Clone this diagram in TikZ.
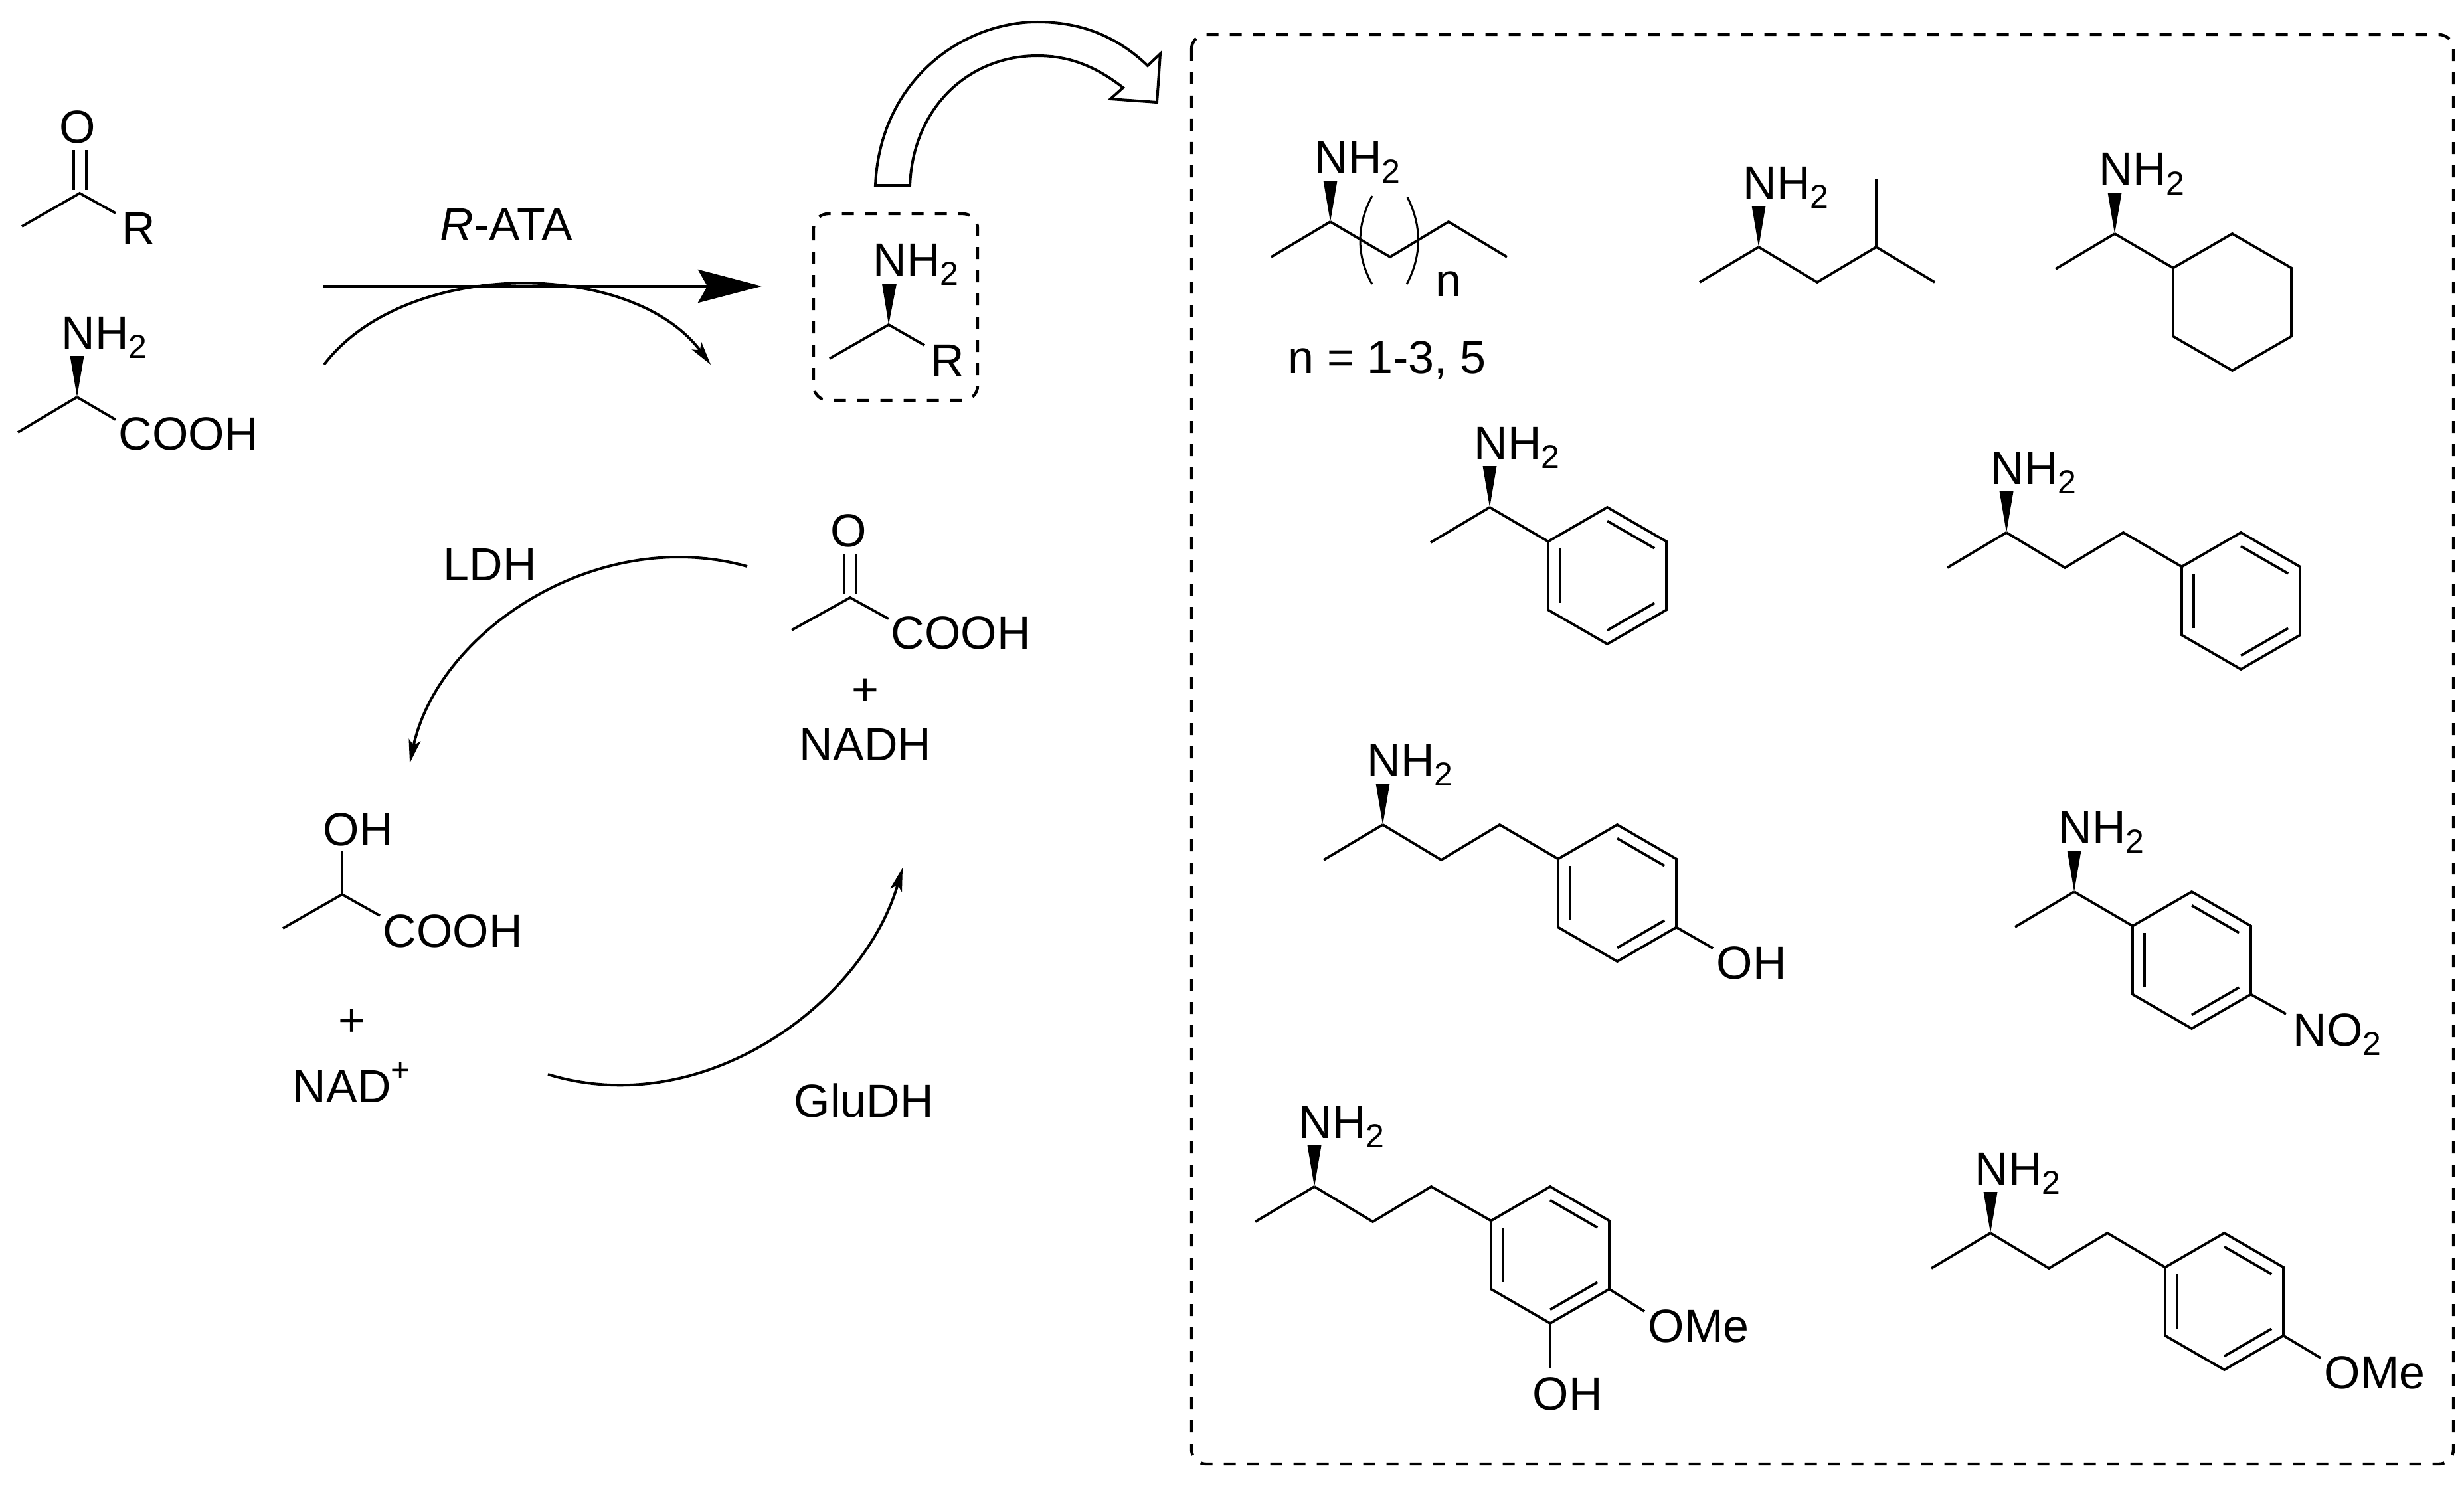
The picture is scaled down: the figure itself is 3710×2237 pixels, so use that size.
\documentclass[tikz,border=0pt]{standalone}
\usepackage{fontspec}
\setmainfont{Liberation Sans}
\usetikzlibrary{arrows.meta, calc}

\tikzset{
	bond/.style={line width=.95pt},
	atom/.style={inner sep=0pt, anchor=base west, xshift=-1pt, font=\fontsize{17.5}{20}\selectfont},
	plus/.style={inner sep=0pt, anchor=base, font=\fontsize{17.5}{20}\selectfont},
	curvearrow/.style={line width=1pt, -{Stealth[length=8.75pt, width=4.5pt, inset=2pt]}},
	dashbox/.style={line width=1.1pt, rounded corners=5.5pt, dash pattern=on 4.5pt off 4.25pt},
}
\newcommand{\subtwo}{\raisebox{-3.5pt}{\fontsize{12.5}{14}\selectfont 2}}
% stereocentre with methyl, wedge and NH2
\newcommand{\amine}[2]{
	\coordinate (#1) at (#2);
	\draw[bond] ($(#1)+(-89,53)$) -- (#1);
	\fill ($(#1)+(-10.5,-62)$) -- ($(#1)+(10.5,-62)$) -- (#1) -- cycle;
	\node[atom] (#1-nh) at ($(#1)+(-20,-73)$) {NH\subtwo};
}
% six-membered ring, point at the top
\newcommand{\ring}[2]{
	\coordinate (#1) at (#2);
	\foreach \v/\dx/\dy in {1/0/-103, 2/89/-51.5, 3/89/51.5, 4/0/103, 5/-89/51.5, 6/-89/-51.5}
		\coordinate (#1-\v) at ($(#1)+(\dx,\dy)$);
	\draw[bond] (#1-1) -- (#1-2) -- (#1-3) -- (#1-4) -- (#1-5) -- (#1-6) -- cycle;
}
\newcommand{\phenyl}[2]{
	\ring{#1}{#2}
	\foreach \s/\e in {1/2, 3/4, 5/6}
		\draw[bond] ($(#1)!.8!(#1-\s)$) -- ($(#1)!.8!(#1-\e)$);
}
% CH2CH2 from stereocentre to ring
\newcommand{\ethyl}[2]{
	\draw[bond] (#1) -- ++(88,53) -- ++(88,-53) -- (#2);
}

\begin{document}
\begin{tikzpicture}[x=.25pt, y=-.25pt]
	\useasboundingbox (0,0) rectangle (3710,2237);

	% ketone
	\coordinate (ketone) at (120,291);
	\draw[bond] (33,341) -- (ketone) -- (174,321);
	\draw[bond] (111,226) -- (111,286);
	\draw[bond] (130,226) -- (130,286);
	\node[atom] (ketone-o) at (93,215) {O};
	\node[atom] (ketone-r) at (187,368) {R};

	% alanine
	\amine{ala}{116,598}
	\draw[bond] (ala) -- (174,632);
	\node[atom] (ala-cooh) at (182,677) {COOH};

	% main reaction
	\coordinate (main-a) at (486,431);
	\coordinate (main-b) at (1147,431);
	\draw[line width=1.25pt, -{Stealth[length=24pt, width=12.5pt, inset=3.5pt]}] (main-a) -- (main-b);
	\coordinate (side-a) at (488,549);
	\coordinate (side-b) at (1070,549);
	\draw[curvearrow] (side-a) .. controls (610,389) and (950,389) .. (side-b);
	\node[atom] (ata) at (666,362) {\textit{R}-ATA};

	% product
	\draw[dashbox] (1225,322) rectangle (1472,603);
	\coordinate (prod) at (1338,489);
	\draw[bond] (1249,540) -- (prod) -- (1392,520);
	\fill (1328,427) -- (1350,427) -- (prod) -- cycle;
	\node[atom] (prod-nh) at (1318,415) {NH\subtwo};
	\node[atom] (prod-r) at (1405,567) {R};

	% hollow arrow
	\draw[line width=1pt, fill=white] (1318,279)
		.. controls (1325,120) and (1450,33) .. (1562,33)
		.. controls (1625,33) and (1680,53) .. (1728,99)
		-- (1747,81) -- (1742,154) -- (1672,149) -- (1691,132)
		.. controls (1650,100) and (1610,84) .. (1562,84)
		.. controls (1460,84) and (1375,160) .. (1370,279) -- cycle;

	% pyruvate
	\coordinate (pyr) at (1280,900);
	\draw[bond] (1192,949) -- (pyr) -- (1338,932);
	\draw[bond] (1271,834) -- (1271,895);
	\draw[bond] (1289,834) -- (1289,895);
	\node[atom] (pyr-o) at (1254,823) {O};
	\node[atom] (pyr-cooh) at (1345,977) {COOH};
	\node[plus] (pyr-plus) at (1303,1062) {+};
	\node[atom] (nadh) at (1207,1145) {NADH};

	% lactate
	\coordinate (lac) at (515,1347);
	\draw[bond] (426,1398) -- (lac) -- (572,1379);
	\draw[bond] (lac) -- (515,1282);
	\node[atom] (lac-oh) at (490,1273) {OH};
	\node[atom] (lac-cooh) at (580,1426) {COOH};
	\node[plus] (lac-plus) at (530,1560) {+};
	\node[atom] (nad) at (444,1660) {NAD\raisebox{8pt}{\fontsize{12.5}{14}\selectfont +}};

	% cycle
	\coordinate (ldh-a) at (1125,853);
	\coordinate (ldh-b) at (617,1149);
	\draw[curvearrow] (ldh-a) .. controls (900,790) and (660,950) .. (ldh-b);
	\node[atom] (ldh) at (671,874) {LDH};
	\coordinate (glu-a) at (825,1618);
	\coordinate (glu-b) at (1359,1307);
	\draw[curvearrow] (glu-a) .. controls (1060,1690) and (1300,1510) .. (glu-b);
	\node[atom] (gludh) at (1199,1682) {GluDH};

	% box of amines
	\draw[dashbox] (1794,52) rectangle (3694,2205);

	\amine{a}{2003,334}
	\draw[bond] (a) -- (2093,387) -- (2181,334) -- (2269,387);
	\draw[line width=.75pt] (2066,295) .. controls (2042,340) and (2042,385) .. (2066,428);
	\draw[line width=.75pt] (2119,297) .. controls (2141,340) and (2141,385) .. (2118,428);
	\node[atom] (a-n) at (2165,446) {n};
	\node[atom] (a-range) at (1943,562) {n = 1-3, 5};

	\amine{b}{2648,372}
	\draw[bond] (b) -- (2736,425) -- (2825,372) -- (2913,425);
	\draw[bond] (2825,372) -- (2825,269);

	\amine{c}{3184,352}
	\ring{c6}{3361,455}
	\draw[bond] (c) -- (c6-6);

	\amine{d}{2243,764}
	\phenyl{d6}{2420,867}
	\draw[bond] (d) -- (d6-6);

	\amine{e}{3021,802}
	\phenyl{e6}{3374,905}
	\ethyl{e}{e6-6}

	\amine{f}{2082,1242}
	\phenyl{f6}{2435,1345}
	\ethyl{f}{f6-6}
	\node[atom] (f-oh) at (2588,1474) {OH};
	\draw[bond] (f6-3) -- (2579,1428);

	\amine{g}{3123,1343}
	\phenyl{g6}{3300,1446}
	\draw[bond] (g) -- (g6-6);
	\node[atom] (g-no) at (3456,1575) {NO\subtwo};
	\draw[bond] (g6-3) -- (3442,1527);

	\amine{h}{1979,1787}
	\phenyl{h6}{2334,1890}
	\ethyl{h}{h6-6}
	\node[atom] (h-ome) at (2485,2021) {OMe};
	\node[atom] (h-oh) at (2311,2123) {OH};
	\draw[bond] (h6-3) -- (2476,1975);
	\draw[bond] (h6-4) -- (2334,2061);

	\amine{i}{2997,1857}
	\phenyl{i6}{3349,1960}
	\ethyl{i}{i6-6}
	\node[atom] (i-ome) at (3503,2091) {OMe};
	\draw[bond] (i6-3) -- (3494,2045);
\end{tikzpicture}
\end{document}
